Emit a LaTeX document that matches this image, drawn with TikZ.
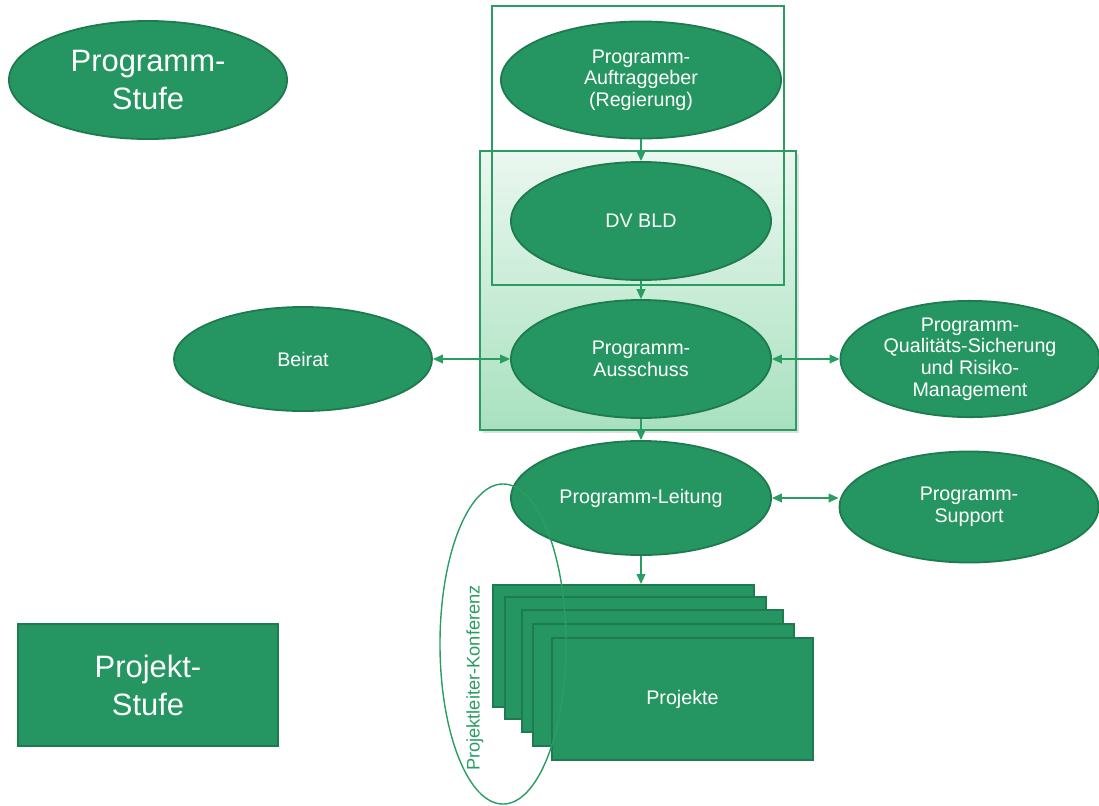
\documentclass[tikz,border=0pt]{standalone}
\usepackage{fontspec}
\setmainfont{Liberation Sans}
\usetikzlibrary{shapes.geometric,arrows.meta,shadows}
\definecolor{pgreen}{HTML}{259661}
\definecolor{pgreendark}{HTML}{1E7B4F}
\definecolor{pline}{HTML}{2A9D63}
\definecolor{pshadetop}{HTML}{EBF7F0}
\definecolor{pshadebot}{HTML}{A8E1BF}

\begin{document}
\begin{tikzpicture}[x=0.025cm,y=-0.025cm,
  oval/.style={ellipse,fill=pgreen,draw=pgreendark,line width=1.3pt,text=white,align=center,inner sep=0pt,font=\fontsize{14}{15.3}\selectfont},
  bigtxt/.style={font=\fontsize{22}{27}\selectfont},
  projbox/.style={rectangle,fill=pgreen,draw=pgreendark,line width=1.3pt,minimum width=6.525cm,minimum height=3.05cm,inner sep=0pt},
  link/.style={pline,line width=1pt,-{Triangle[length=0.25cm,width=0.22cm]}},
  twolink/.style={pline,line width=1pt,{Triangle[length=0.25cm,width=0.22cm]}-{Triangle[length=0.25cm,width=0.22cm]}}]
  \useasboundingbox (0,0) rectangle (1099,805);
  \draw[pline,line width=1pt,top color=pshadetop,bottom color=pshadebot,drop shadow={opacity=0.25,shadow xshift=2pt,shadow yshift=-2pt}] (480,151) rectangle (796,430);
  \draw[pline,line width=1pt] (492,6) rectangle (784,285);
  \node[oval,bigtxt,minimum width=6.95cm,minimum height=2.95cm] (stufe) at (148,80) {Programm-\\Stufe};
  \node[projbox,bigtxt,text=white,align=center,minimum width=6.5cm] (pstufe) at (148,685) {Projekt-\\Stufe};
  \node[oval,minimum width=7cm,minimum height=2.925cm] (auftrag) at (641,80) {Programm-\\Auftraggeber\\(Regierung)};
  \node[oval,minimum width=6.5cm,minimum height=2.95cm] (dvbld) at (641,221) {DV BLD};
  \node[oval,minimum width=6.5cm,minimum height=2.95cm] (ausschuss) at (641,359) {Programm-\\Ausschuss};
  \node[oval,minimum width=6.45cm,minimum height=2.6cm] (beirat) at (303,359) {Beirat};
  \node[oval,minimum width=6.475cm,minimum height=2.7cm] (qs) at (970,359) {Programm-\\Qualitäts-Sicherung\\und Risiko-\\Management};
  \node[oval,minimum width=6.5cm,minimum height=2.85cm] (leitung) at (641,498) {Programm-Leitung};
  \node[oval,minimum width=6.475cm,minimum height=2.775cm] (support) at (969,507) {Programm-\\Support};
  \foreach \i/\px/\py in {1/492/584,2/504/596,3/521/609,4/532/623,5/551/637}
    \node[projbox,anchor=north west] (proj\i) at (\px,\py) {};
  \node[text=white,font=\fontsize{14}{15.3}\selectfont] (projlabel) at (proj5.center) {Projekte};
  \draw[link] (auftrag) -- (dvbld);
  \draw[link] (dvbld) -- (ausschuss);
  \draw[link] (ausschuss) -- (leitung);
  \draw[link] (leitung.south) -- (leitung.south |- proj1.north);
  \draw[twolink] (beirat) -- (ausschuss);
  \draw[twolink] (ausschuss) -- (qs);
  \draw[twolink] (leitung.east) -- (leitung.east -| support.west);
  \node[ellipse,draw=pline,line width=1pt,minimum width=3.15cm,minimum height=8cm] (konf) at (503,644) {};
  \node[rotate=90,text=pline,font=\fontsize{13}{15}\selectfont] (konflabel) at (475,678) {Projektleiter-Konferenz};
\end{tikzpicture}
\end{document}
